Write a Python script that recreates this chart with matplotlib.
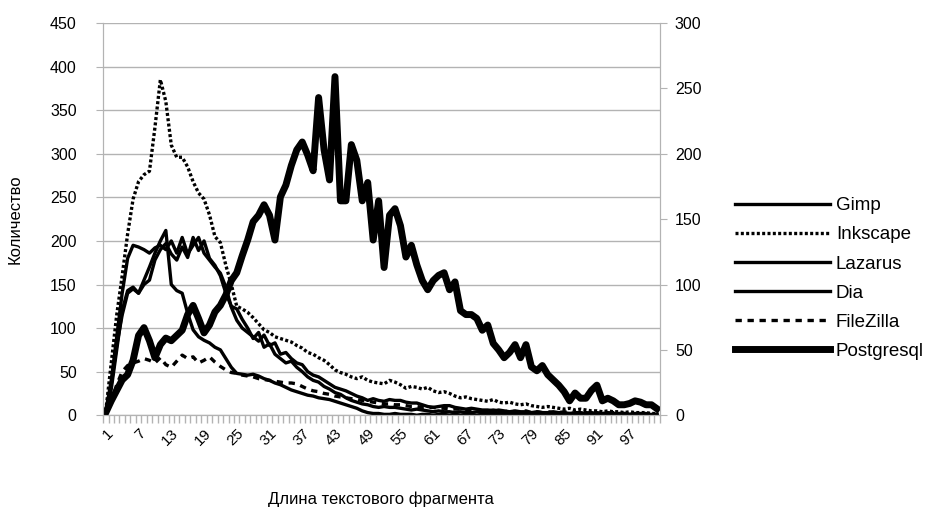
import matplotlib.pyplot as plt
from matplotlib.ticker import MultipleLocator

plt.rcParams['font.family'] = ['Liberation Sans', 'DejaVu Sans']

# -------------------- DATOS --------------------
lengths = list(range(1, 103))

gimp = [5, 40, 90, 140, 180, 195, 193, 190, 186, 192,
        195, 190, 200, 186, 204, 185, 195, 204, 186, 178,
        170, 163, 147, 124, 109, 100, 95, 90, 85, 92,
        80, 83, 70, 72, 65, 60, 58, 50, 46, 44,
        40, 36, 32, 30, 28, 25, 22, 20, 17, 19,
        17, 16, 18, 17, 17, 15, 14, 14, 12, 10,
        9, 10, 11, 11, 9, 8, 7, 8, 7, 6,
        6, 5, 6, 5, 4, 5, 4, 4, 3, 4,
        3, 3, 4, 3, 3, 2, 3, 3, 2, 3,
        2, 2, 3, 2, 2, 2, 1, 2, 2, 1,
        1, 1]

inkscape = [5, 60, 115, 160, 208, 248, 268, 276, 280, 330,
            385, 360, 310, 296, 296, 285, 268, 255, 248, 230,
            205, 198, 172, 150, 125, 122, 118, 112, 105, 98,
            95, 90, 88, 86, 84, 80, 77, 72, 70, 66,
            63, 58, 52, 49, 47, 44, 42, 44, 40, 38,
            37, 36, 40, 38, 35, 31, 33, 32, 30, 32,
            28, 26, 27, 25, 22, 20, 21, 19, 18, 17,
            16, 18, 15, 14, 15, 13, 12, 13, 11, 10,
            9, 10, 9, 8, 7, 8, 6, 7, 6, 5,
            5, 4, 5, 4, 4, 3, 4, 3, 3, 3,
            2, 2]

lazarus = [3, 30, 75, 120, 143, 147, 140, 150, 155, 178,
           190, 197, 185, 178, 193, 181, 204, 189, 200, 180,
           172, 160, 140, 125, 122, 110, 100, 88, 95, 78,
           82, 70, 65, 60, 62, 55, 50, 44, 40, 38,
           33, 30, 26, 24, 20, 17, 15, 13, 12, 10,
           9, 10, 9, 9, 8, 7, 6, 7, 6, 5,
           4, 5, 4, 4, 3, 4, 3, 3, 4, 3,
           3, 2, 3, 3, 2, 2, 3, 2, 2, 2,
           2, 1, 2, 2, 1, 2, 1, 1, 2, 1,
           1, 1, 1, 2, 1, 1, 1, 1, 1, 1,
           0, 1]

dia = [3, 35, 80, 115, 140, 145, 140, 155, 170, 186,
       200, 212, 150, 143, 140, 117, 98, 90, 86, 83,
       78, 75, 65, 55, 48, 47, 46, 47, 45, 42,
       40, 37, 35, 32, 29, 27, 25, 23, 22, 20,
       19, 18, 16, 14, 12, 10, 8, 5, 3, 2,
       2, 1, 1, 2, 1, 1, 1, 0, 1, 1,
       0, 1, 1, 0, 1, 0, 1, 1, 0, 1,
       0, 0, 1, 0, 1, 0, 0, 1, 0, 0,
       1, 0, 0, 1, 0, 0, 0, 1, 0, 0,
       0, 1, 0, 0, 0, 1, 0, 0, 0, 0,
       0, 0]

filezilla = [2, 15, 35, 50, 57, 60, 62, 65, 63, 60,
             66, 58, 55, 62, 69, 65, 67, 60, 63, 67,
             61, 56, 52, 49, 48, 46, 45, 44, 42, 41,
             40, 39, 38, 37, 37, 36, 33, 30, 28, 27,
             25, 24, 22, 21, 20, 19, 18, 17, 16, 15,
             14, 13, 13, 12, 12, 11, 10, 10, 9, 9,
             9, 8, 8, 7, 7, 7, 6, 6, 6, 5,
             5, 6, 5, 4, 5, 4, 4, 5, 3, 4,
             3, 4, 3, 3, 4, 3, 2, 3, 3, 2,
             3, 2, 2, 3, 2, 2, 2, 1, 2, 2,
             1, 1]

# eje secundario
postgresql = [2, 11, 19, 27, 31, 42, 61, 67, 57, 44,
              54, 59, 57, 61, 65, 77, 84, 74, 63, 69,
              79, 84, 92, 103, 109, 122, 134, 148, 153, 161,
              153, 134, 167, 176, 191, 203, 209, 199, 187, 243,
              203, 180, 259, 164, 164, 207, 195, 164, 178, 134,
              164, 113, 153, 158, 145, 121, 130, 115, 103, 96,
              103, 107, 109, 96, 102, 80, 77, 77, 74, 65,
              69, 55, 50, 44, 48, 54, 44, 54, 37, 34,
              38, 31, 27, 23, 18, 11, 17, 13, 13, 19,
              23, 11, 13, 11, 8, 8, 9, 11, 10, 8,
              8, 5]

tick_labels = list(range(1, 103, 6))

# -------------------- GRÁFICA --------------------
fig = plt.figure(figsize=(9.37, 5.12), dpi=100)
ax = fig.add_axes([0.110, 0.189, 0.594, 0.766])
ax2 = ax.twinx()

gris = '#b3b3b3'
lw = 2.4
h1, = ax.plot(lengths, gimp, color='black', lw=lw, label='Gimp')
h2, = ax.plot(lengths, inkscape, color='black', lw=lw, linestyle=(0, (0.9, 0.7)), label='Inkscape')
h3, = ax.plot(lengths, lazarus, color='black', lw=lw, label='Lazarus')
h4, = ax.plot(lengths, dia, color='black', lw=lw, label='Dia')
h5, = ax.plot(lengths, filezilla, color='black', lw=lw, linestyle=(0, (1.9, 1.7)), label='FileZilla')
h6, = ax2.plot(lengths, postgresql, color='black', lw=5, label='Postgresql')

ax.set_xlim(0.5, 102.5)
ax.set_ylim(0, 450)
ax2.set_ylim(0, 300)
ax.yaxis.set_major_locator(MultipleLocator(50))
ax2.yaxis.set_major_locator(MultipleLocator(50))

ax.set_xticks(tick_labels)
ax.set_xticklabels([str(t) for t in tick_labels], rotation=45, ha='right',
                   rotation_mode='anchor', fontsize=11)
ax.set_xticks([x + 0.5 for x in range(0, 103)], minor=True)
ax.tick_params(axis='x', which='major', length=0, pad=8)
ax.tick_params(axis='x', which='minor', length=6, color=gris, width=1)
ax.tick_params(axis='y', length=5, color=gris, labelsize=11.5, pad=14)
ax2.tick_params(axis='y', length=5, color=gris, labelsize=11.5, pad=6)

ax.grid(axis='y', color=gris, lw=1)
ax.set_axisbelow(True)
for a in (ax, ax2):
    a.spines['top'].set_visible(False)
    for s in ('left', 'right', 'bottom'):
        a.spines[s].set_color(gris)

ax.set_xlabel('Длина текстового фрагмента', fontsize=12, labelpad=31)
ax.set_ylabel('Количество', fontsize=12, labelpad=20)

fig.legend(handles=[h1, h2, h3, h4, h5, h6], loc='center left',
           bbox_to_anchor=(0.784, 0.456), frameon=False, fontsize=13.5,
           handlelength=5.1, handletextpad=0.3, labelspacing=0.64,
           borderpad=0, borderaxespad=0)

plt.savefig('out.png', dpi=100)
